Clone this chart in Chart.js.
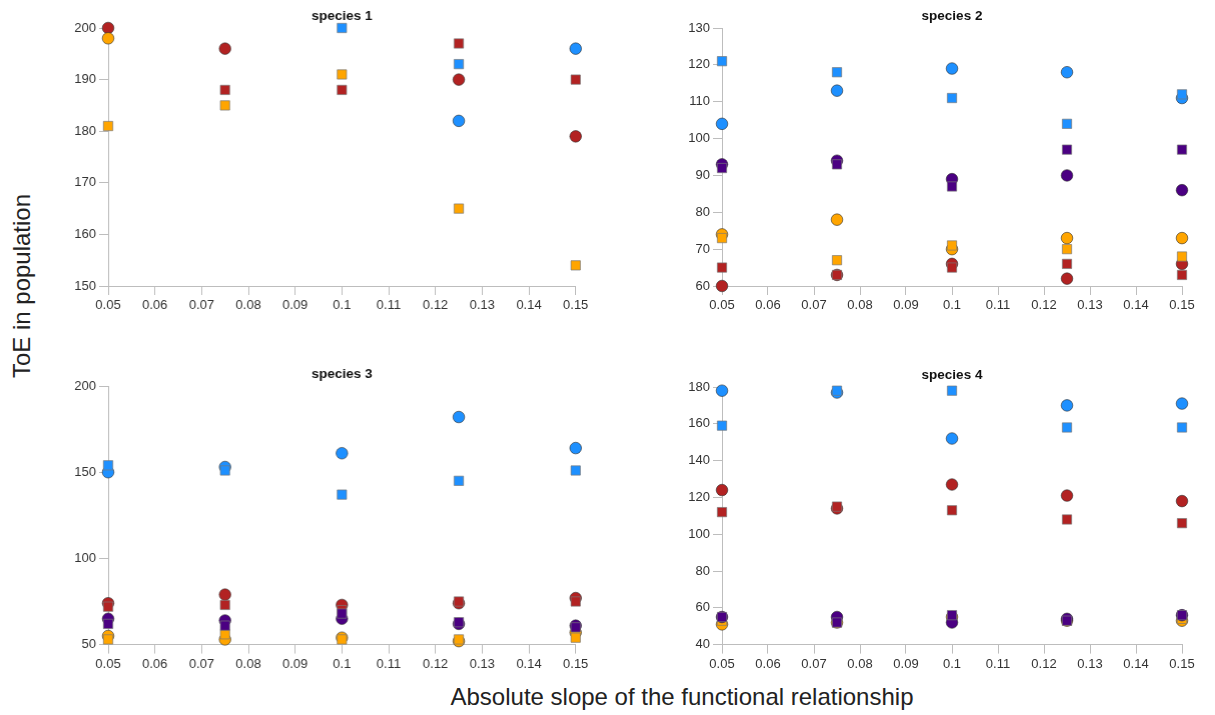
<!DOCTYPE html>
<html>
<head>
<meta charset="utf-8">
<script src="https://cdn.jsdelivr.net/npm/chart.js@4.4.1/dist/chart.umd.min.js"></script>
<style>
  html, body { margin: 0; padding: 0; background: #fff; }
  body { width: 1215px; height: 715px; position: relative; overflow: hidden; font-family: "Liberation Sans", Arial, Helvetica, sans-serif; }
  .panel { position: absolute; }
  .panel canvas { display: block; }
  #xtitle { position: absolute; left: 382px; width: 600px; top: 682.7px; text-align: center; font-size: 24px; line-height: 28px; color: #222; white-space: nowrap; }
  #ytitle { position: absolute; left: 22px; top: 286px; font-size: 24px; line-height: 28px; color: #222; white-space: nowrap; transform: translate(-50%, -50%) rotate(-90deg); }
</style>
</head>
<body>
<div id="p1" class="panel"><canvas id="c1"></canvas></div>
<div id="p2" class="panel"><canvas id="c2"></canvas></div>
<div id="p3" class="panel"><canvas id="c3"></canvas></div>
<div id="p4" class="panel"><canvas id="c4"></canvas></div>
<div id="xtitle">Absolute slope of the functional relationship</div>
<div id="ytitle">ToE in population</div>
<script>
// ---------------- DATA ----------------
const slopes = [0.05, 0.075, 0.1, 0.125, 0.15];
const xTicks = [0.05, 0.06, 0.07, 0.08, 0.09, 0.1, 0.11, 0.12, 0.13, 0.14, 0.15];
const panelTitles = ["species 1", "species 2", "species 3", "species 4"];

// species 1 (circle = "C", square = "S")
const sp1BlueC   = [null, null, null, 182, 196];
const sp1BlueS   = [null, null, 200, 193, null];
const sp1RedC    = [200, 196, null, 190, 179];
const sp1RedS    = [null, 188, 188, 197, 190];
const sp1OrangeC = [198, null, null, null, null];
const sp1OrangeS = [181, 185, 191, 165, 154];
const sp1PurpleC = [null, null, null, null, null];
const sp1PurpleS = [null, null, null, null, null];
const sp1YTicks  = [150, 160, 170, 180, 190, 200];

// species 2
const sp2BlueC   = [104, 113, 119, 118, 111];
const sp2BlueS   = [121, 118, 111, 104, 112];
const sp2RedC    = [60, 63, 66, 62, 66];
const sp2RedS    = [65, 63, 65, 66, 63];
const sp2OrangeC = [74, 78, 70, 73, 73];
const sp2OrangeS = [73, 67, 71, 70, 68];
const sp2PurpleC = [93, 94, 89, 90, 86];
const sp2PurpleS = [92, 93, 87, 97, 97];
const sp2YTicks  = [60, 70, 80, 90, 100, 110, 120, 130];

// species 3
const sp3BlueC   = [150, 153, 161, 182, 164];
const sp3BlueS   = [154, 151, 137, 145, 151];
const sp3RedC    = [74, 79, 73, 74, 77];
const sp3RedS    = [72, 73, 70, 75, 75];
const sp3OrangeC = [55, 53, 54, 52, 57];
const sp3OrangeS = [53, 56, 53, 53, 54];
const sp3PurpleC = [65, 64, 65, 62, 61];
const sp3PurpleS = [62, 61, 68, 63, 60];
const sp3YTicks  = [50, 100, 150, 200];

// species 4
const sp4BlueC   = [178, 177, 152, 170, 171];
const sp4BlueS   = [159, 178, 178, 158, 158];
const sp4RedC    = [124, 114, 127, 121, 118];
const sp4RedS    = [112, 115, 113, 108, 106];
const sp4OrangeC = [51, 52, 55, 53, 53];
const sp4OrangeS = [53, 52, 54, 53, 54];
const sp4PurpleC = [55, 55, 52, 54, 56];
const sp4PurpleS = [55, 52, 56, 53, 56];
const sp4YTicks  = [40, 60, 80, 100, 120, 140, 160, 180];

// ---------------- STYLE ----------------
const COLORS = { blue: "#1E90FF", red: "#B22222", orange: "#FFA500", purple: "#4B0082" };
const FONT = "'Liberation Sans', Arial, Helvetica, sans-serif";

// chart area boxes in page coordinates
const boxes = [
  { left: 108.3, right: 575,    top: 27.7,  bottom: 285.7 },
  { left: 721.7, right: 1181.7, top: 27.7,  bottom: 285.7 },
  { left: 108.3, right: 575,    top: 385.7, bottom: 644.3 },
  { left: 721.7, right: 1181.7, top: 386.7, bottom: 644.3 }
];
const PADL = 70, PADT = 28, PADR = 30, PADB = 36;

function pts(arr) {
  const out = [];
  arr.forEach((v, i) => { if (v !== null && v !== undefined) out.push({ x: slopes[i], y: v }); });
  return out;
}

function ds(arr, color, shape) {
  const circle = shape === "circle";
  return {
    data: pts(arr),
    clip: false,
    pointStyle: circle ? "circle" : "rect",
    pointRadius: circle ? 5.8 : 6.6,
    pointHoverRadius: circle ? 5.8 : 6.6,
    backgroundColor: color,
    borderColor: circle ? "rgba(45,45,45,0.75)" : "rgba(120,120,120,0.85)",
    pointBorderWidth: 0.8,
    showLine: false
  };
}

const titlePlugin = {
  id: "panelTitle",
  afterDraw(chart, args, opts) {
    const ctx = chart.ctx, a = chart.chartArea;
    ctx.save();
    ctx.font = "bold 13.5px " + FONT;
    ctx.fillStyle = "#111";
    ctx.textAlign = "center";
    ctx.textBaseline = "middle";
    ctx.fillText(opts.text, (a.left + a.right) / 2, a.top - 12);
    ctx.restore();
  }
};

function makePanel(idx, series, yTicks) {
  const b = boxes[idx];
  const div = document.getElementById("p" + (idx + 1));
  const w = (b.right - b.left) + PADL + PADR;
  const h = (b.bottom - b.top) + PADT + PADB;
  div.style.left = (b.left - PADL) + "px";
  div.style.top = (b.top - PADT) + "px";
  div.style.width = w + "px";
  div.style.height = h + "px";
  const yMin = yTicks[0], yMax = yTicks[yTicks.length - 1];
  const yStep = yTicks[1] - yTicks[0];
  const gridCommon = { drawOnChartArea: false, drawTicks: true, tickLength: 9, color: "#bdbdbd", lineWidth: 1 };
  new Chart(document.getElementById("c" + (idx + 1)), {
    type: "scatter",
    data: { datasets: series },
    plugins: [titlePlugin],
    options: {
      responsive: true,
      maintainAspectRatio: false,
      animation: false,
      events: [],
      layout: { padding: { left: 0, top: PADT, right: PADR, bottom: 0 } },
      plugins: {
        legend: { display: false },
        tooltip: { enabled: false },
        title: { display: false },
        panelTitle: { text: panelTitles[idx] }
      },
      scales: {
        x: {
          type: "linear",
          min: xTicks[0], max: xTicks[xTicks.length - 1],
          afterBuildTicks(scale) { scale.ticks = xTicks.map(v => ({ value: v })); },
          afterFit(scale) { scale.height = PADB; },
          grid: gridCommon,
          border: { display: true, color: "#bdbdbd", width: 1 },
          ticks: {
            padding: 3, autoSkip: false, maxRotation: 0, color: "#333",
            font: { family: FONT, size: 13 },
            callback: v => String(parseFloat(Number(v).toFixed(3)))
          }
        },
        y: {
          type: "linear",
          min: yMin, max: yMax,
          afterBuildTicks(scale) { scale.ticks = yTicks.map(v => ({ value: v })); },
          afterFit(scale) { scale.width = PADL; },
          grid: gridCommon,
          border: { display: true, color: "#bdbdbd", width: 1 },
          ticks: {
            padding: 3, color: "#333", stepSize: yStep,
            font: { family: FONT, size: 13 }
          }
        }
      }
    }
  });
}

function seriesFor(bc, bs, rc, rs, oc, os, pc, ps) {
  return [
    ds(bs, COLORS.blue, "rect"), ds(bc, COLORS.blue, "circle"),
    ds(ps, COLORS.purple, "rect"), ds(pc, COLORS.purple, "circle"),
    ds(os, COLORS.orange, "rect"), ds(oc, COLORS.orange, "circle"),
    ds(rs, COLORS.red, "rect"), ds(rc, COLORS.red, "circle")
  ];
}

makePanel(0, seriesFor(sp1BlueC, sp1BlueS, sp1RedC, sp1RedS, sp1OrangeC, sp1OrangeS, sp1PurpleC, sp1PurpleS), sp1YTicks);
makePanel(1, seriesFor(sp2BlueC, sp2BlueS, sp2RedC, sp2RedS, sp2OrangeC, sp2OrangeS, sp2PurpleC, sp2PurpleS), sp2YTicks);
makePanel(2, seriesFor(sp3BlueC, sp3BlueS, sp3RedC, sp3RedS, sp3OrangeC, sp3OrangeS, sp3PurpleC, sp3PurpleS), sp3YTicks);
makePanel(3, seriesFor(sp4BlueC, sp4BlueS, sp4RedC, sp4RedS, sp4OrangeC, sp4OrangeS, sp4PurpleC, sp4PurpleS), sp4YTicks);
</script>
</body>
</html>
